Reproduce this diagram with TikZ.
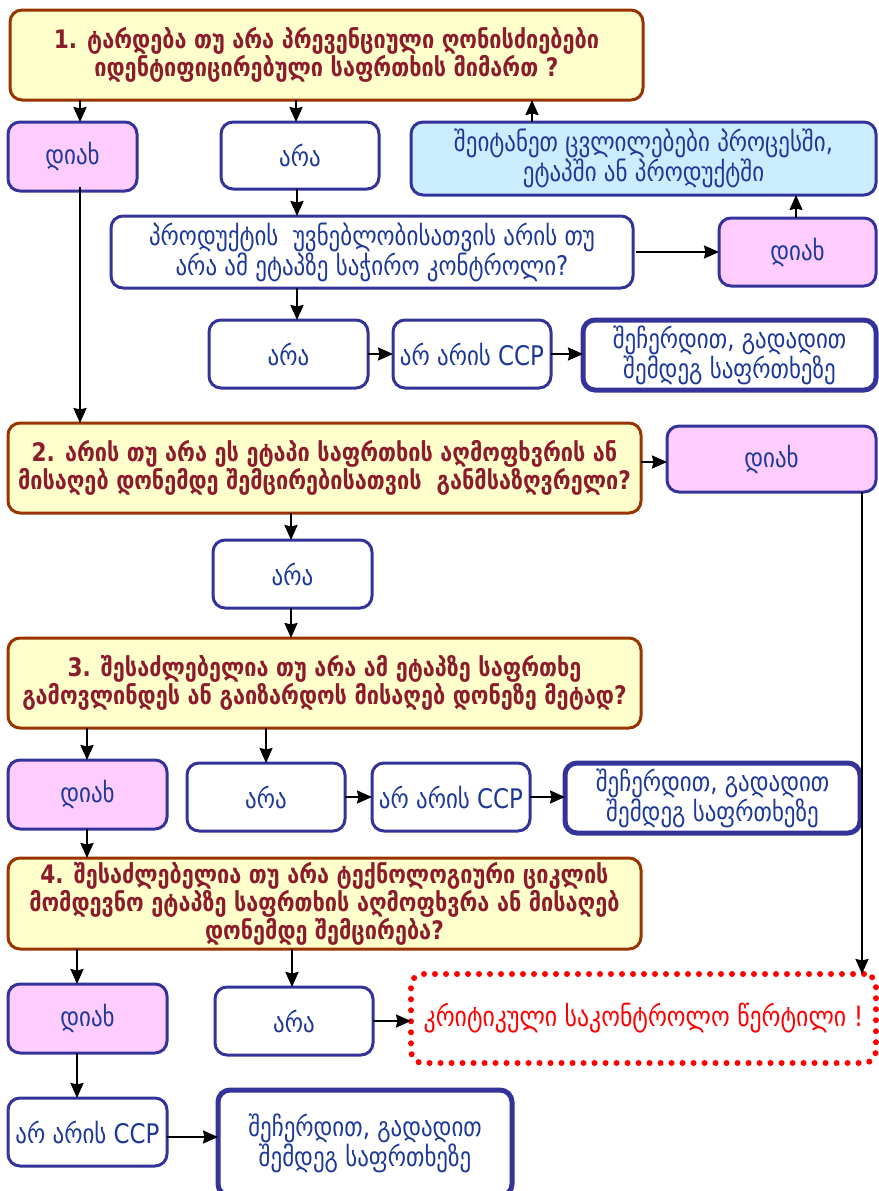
\documentclass[tikz,border=0pt]{standalone}
\usepackage{fontspec}
\setmainfont{DejaVu Sans}[FakeStretch=0.85]
\usetikzlibrary{arrows.meta}
\definecolor{qfill}{HTML}{FFFFCC}
\definecolor{qborder}{HTML}{993300}
\definecolor{qtext}{RGB}{140,28,44}
\definecolor{bborder}{HTML}{333399}
\definecolor{btext}{RGB}{28,56,152}
\definecolor{yesfill}{HTML}{FFCCFF}
\definecolor{chgfill}{HTML}{CCECFF}
\begin{document}
\begin{tikzpicture}[x=1pt,y=-1pt,
  box/.style={draw=bborder, line width=3pt, rounded corners=12pt, fill=white,
    inner sep=0pt, outer sep=0pt, align=center, text=btext,
    font=\fontsize{27}{28}\selectfont},
  question/.style={box, draw=qborder, fill=qfill, text=qtext,
    font=\bfseries\fontsize{25.5}{27}\selectfont},
  yesbox/.style={box, fill=yesfill},
  stopbox/.style={box, line width=5pt},
  critbox/.style={draw=red, line width=6pt, dash pattern=on 0pt off 11pt,
    line cap=round, rounded corners=12pt, inner sep=0pt, outer sep=0pt,
    text=red, font=\fontsize{28}{28}\selectfont},
  arr/.style={-{Stealth[length=15pt,width=13pt,inset=1.5pt]}, line width=2.2pt, black},
  wh/.style 2 args={minimum width=#1pt, minimum height=#2pt}
]
\useasboundingbox (0,0) rectangle (878,1191);

% question 1 and its branches
\node[question, wh={633}{90}] (q1) at (326.5,55)
  {1. ტარდება თუ არა პრევენციული ღონისძიებები\\იდენტიფიცირებული საფრთხის მიმართ ?};
\node[yesbox, wh={129}{69}] (yes1) at (72.5,156.5) {დიახ};
\node[box, wh={158}{67}] (no1) at (300,155.5) {არა};
\node[box, fill=chgfill, wh={465}{73}] (change) at (643.5,158.5)
  {შეიტანეთ ცვლილებები პროცესში,\\ეტაპში ან პროდუქტში};
\node[box, wh={522}{72}] (qctl) at (372,252)
  {პროდუქტის\ \ უვნებლობისათვის არის თუ\\არა ამ ეტაპზე საჭირო კონტროლი?};
\node[yesbox, wh={157}{68}] (yesctl) at (797.5,252) {დიახ};
\node[box, wh={159}{68}] (noctl) at (288.5,354) {არა};
\node[box, wh={158}{68}] (ccp1) at (472,354) {არ არის CCP};
\node[stopbox, wh={293}{70}] (stop1) at (729.5,355)
  {შეჩერდით, გადადით\\შემდეგ საფრთხეზე};

% question 2
\node[question, wh={633}{90}] (q2) at (324.5,468)
  {2. არის თუ არა ეს ეტაპი საფრთხის აღმოფხვრის ან\\მისაღებ დონემდე შემცირებისათვის\ \ განმსაზღვრელი?};
\node[yesbox, wh={209}{66}] (yes2) at (771.5,459) {დიახ};
\node[box, wh={159}{68}] (no2) at (292.5,574) {არა};

% question 3
\node[question, wh={633}{90}] (q3) at (324.5,683)
  {3. შესაძლებელია თუ არა ამ ეტაპზე საფრთხე\\გამოვლინდეს ან გაიზარდოს მისაღებ დონეზე მეტად?};
\node[yesbox, wh={159}{69}] (yes3) at (87.5,794.5) {დიახ};
\node[box, wh={158}{68}] (no3) at (266,797) {არა};
\node[box, wh={158}{68}] (ccp3) at (451,797) {არ არის CCP};
\node[stopbox, wh={295}{70}] (stop3) at (712.5,798)
  {შეჩერდით, გადადით\\შემდეგ საფრთხეზე};

% question 4
\node[question, wh={633}{91}] (q4) at (324.5,903.5)
  {4. შესაძლებელია თუ არა ტექნოლოგიური ციკლის\\მომდევნო ეტაპზე საფრთხის აღმოფხვრა ან მისაღებ\\დონემდე შემცირება?};
\node[yesbox, wh={159}{69}] (yes4) at (87.5,1018.5) {დიახ};
\node[box, wh={158}{68}] (no4) at (294,1021) {არა};
\node[critbox, wh={465}{89}] (crit) at (643.5,1018.5)
  {კრიტიკული საკონტროლო წერტილი !};
\node[box, wh={159}{68}] (ccp4) at (87.5,1132) {არ არის CCP};
\node[stopbox, wh={294}{106}] (stop4) at (365,1143)
  {შეჩერდით, გადადით\\შემდეგ საფრთხეზე};

% connectors
\draw[arr] (80,0 |- q1.south) -- (80,0 |- yes1.north);
\draw[arr] (296,0 |- q1.south) -- (296,0 |- no1.north);
\draw[arr] (532,0 |- change.north) -- (532,0 |- q1.south);
\draw[arr] (297,0 |- no1.south) -- (297,0 |- qctl.north);
\draw[arr] (297,0 |- qctl.south) -- (297,0 |- noctl.north);
\draw[arr] ([xshift=3pt]qctl.east) -- (yesctl.west);
\draw[arr] (796,0 |- yesctl.north) -- (796,0 |- change.south);
\draw[arr] (noctl.east) -- (ccp1.west |- noctl.east);
\draw[arr] (ccp1.east) -- (stop1.west |- ccp1.east);
\draw[arr] ([yshift=4pt]80,0 |- yes1.south) -- (80,0 |- q2.north);
\draw[arr] (q2.east |- 0,462) -- (yes2.west |- 0,462);
\draw[arr] (862,0 |- yes2.south) -- (862,0 |- crit.north);
\draw[arr] (291,0 |- q2.south) -- (291,0 |- no2.north);
\draw[arr] (291,0 |- no2.south) -- (291,0 |- q3.north);
\draw[arr] (87,0 |- q3.south) -- (87,0 |- yes3.north);
\draw[arr] (266,0 |- q3.south) -- (266,0 |- no3.north);
\draw[arr] (no3.east) -- (ccp3.west |- no3.east);
\draw[arr] (ccp3.east) -- (stop3.west |- ccp3.east);
\draw[arr] (87,0 |- yes3.south) -- (87,0 |- q4.north);
\draw[arr] (77,0 |- q4.south) -- (77,0 |- yes4.north);
\draw[arr] (292,0 |- q4.south) -- (292,0 |- no4.north);
\draw[arr] (no4.east) -- (crit.west |- no4.east);
\draw[arr] (77,0 |- yes4.south) -- (77,0 |- ccp4.north);
\draw[arr] (ccp4.east |- 0,1137) -- (stop4.west |- 0,1137);
\end{tikzpicture}
\end{document}
